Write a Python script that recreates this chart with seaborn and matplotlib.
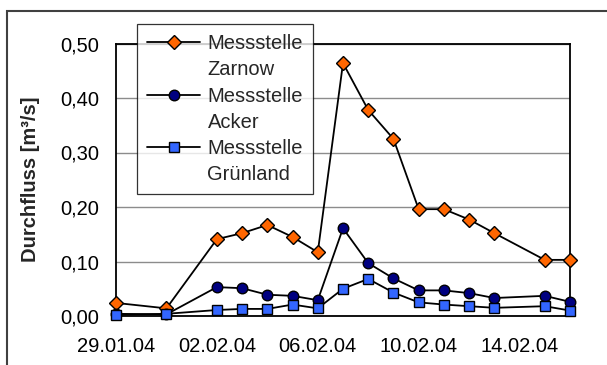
import matplotlib
matplotlib.use("Agg")
import matplotlib.pyplot as plt
import matplotlib.dates as mdates
from matplotlib.lines import Line2D
from matplotlib.legend_handler import HandlerLine2D
import seaborn as sns
import pandas as pd
import numpy as np

dates = ["2004-01-29", "2004-01-31", "2004-02-02", "2004-02-03", "2004-02-04",
         "2004-02-05", "2004-02-06", "2004-02-07", "2004-02-08", "2004-02-09",
         "2004-02-10", "2004-02-11", "2004-02-12", "2004-02-13", "2004-02-15",
         "2004-02-16"]
zarnow = [0.024, 0.014, 0.141, 0.152, 0.167, 0.145, 0.117, 0.464, 0.378, 0.325,
          0.196, 0.196, 0.177, 0.152, 0.103, 0.103]
acker = [0.004, 0.003, 0.053, 0.051, 0.039, 0.037, 0.029, 0.161, 0.097, 0.069,
         0.047, 0.047, 0.042, 0.033, 0.037, 0.026]
gruenland = [0.002, 0.004, 0.011, 0.013, 0.013, 0.021, 0.014, 0.050, 0.068, 0.043,
             0.025, 0.021, 0.018, 0.015, 0.018, 0.010]
labels = ["Messstelle\nZarnow", "Messstelle\nAcker", "Messstelle\nGrünland"]
yticks = [0.0, 0.1, 0.2, 0.3, 0.4, 0.5]
xtick_dates = ["2004-01-29", "2004-02-02", "2004-02-06", "2004-02-10", "2004-02-14"]

sns.set_theme(style="white")
plt.rcParams["font.family"] = ["Liberation Sans", "DejaVu Sans"]
FS = 14.5

df = pd.DataFrame({"date": pd.to_datetime(dates), "Zarnow": zarnow,
                   "Acker": acker, "Gruenland": gruenland})

fig = plt.figure(figsize=(6.07, 3.65), dpi=100)
ax = fig.add_axes([116/607, 1-316/365, (570-116)/607, (316-43.5)/365])

# outer chart border (cropped: only top and left visible)
fig.patches.append(plt.Rectangle((7/607, -0.1), 1.2, 1 - 11/365 + 0.1,
                                 transform=fig.transFigure, fill=False,
                                 edgecolor="#404040", linewidth=1.5, zorder=0))

styles = [("Zarnow", "D", "#FF6600", 7.2), ("Acker", "o", "#000080", 7.6),
          ("Gruenland", "s", "#3366FF", 6.6)]
handles = []
for (col, mk, color, ms), lab in zip(styles, labels):
    sns.lineplot(data=df, x="date", y=col, ax=ax, color="black", linewidth=1.3,
                 marker=mk, markersize=ms, markerfacecolor=color,
                 markeredgecolor="black", markeredgewidth=1.0, zorder=3,
                 clip_on=False)
    handles.append(Line2D([], [], color="black", linewidth=1.3, marker=mk,
                          markersize=ms, markerfacecolor=color,
                          markeredgecolor="black", markeredgewidth=1.0))


class TopHandler(HandlerLine2D):
    def create_artists(self, legend, orig_handle, xdescent, ydescent, width,
                       height, fontsize, trans):
        arts = super().create_artists(legend, orig_handle, xdescent, ydescent,
                                      width, height, fontsize, trans)
        for a in arts:
            a.set_ydata(np.asarray(a.get_ydata(), dtype=float) + fontsize * 0.74)
        return arts


ax.set_xlim(pd.Timestamp("2004-01-29"), pd.Timestamp("2004-02-16"))
ax.set_ylim(0, 0.5)
ax.set_yticks(yticks)
ax.set_yticklabels([f"{v:.2f}".replace(".", ",") for v in yticks])
ax.set_xticks(pd.to_datetime(xtick_dates))
ax.xaxis.set_major_formatter(mdates.DateFormatter("%d.%m.%y"))
ax.yaxis.grid(True, color="#8c8c8c", linewidth=1.0)
ax.set_axisbelow(True)
for s in ax.spines.values():
    s.set_color("black")
    s.set_linewidth(1.3)
ax.tick_params(axis="both", which="major", direction="out", length=5, width=1,
               color="black", labelsize=FS, colors="black", pad=7)
ax.tick_params(axis="x", pad=10)
ax.set_xlabel("")
ax.set_ylabel("Durchfluss [m³/s]", fontsize=FS, fontweight="bold", labelpad=15)

leg = ax.legend(handles, labels, loc="upper left",
                bbox_to_anchor=((137-116)/454, 1 + (43.5-24)/272.5),
                frameon=True, fancybox=False, fontsize=FS, handlelength=2.65,
                handletextpad=0.35, labelspacing=0.37, borderpad=0.5,
                borderaxespad=0,
                handler_map={Line2D: TopHandler()})
for t in leg.get_texts():
    t.set_linespacing(1.47)
leg.get_frame().set_edgecolor("black")
leg.get_frame().set_linewidth(0.9)
leg.set_zorder(5)

fig.savefig("out.png", dpi=100, facecolor="white")
